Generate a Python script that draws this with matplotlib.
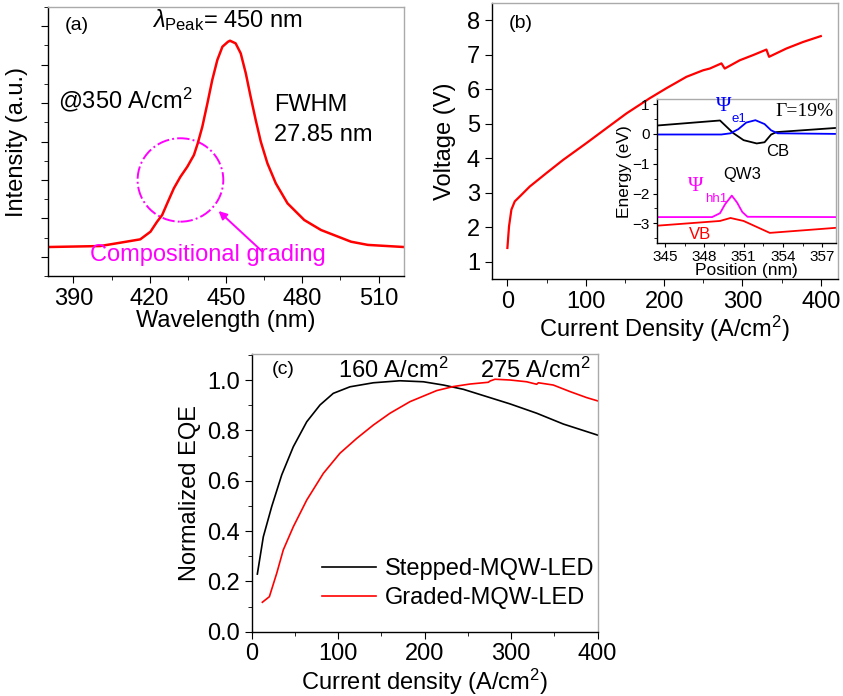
import matplotlib
matplotlib.use("Agg")
import matplotlib.pyplot as plt
from matplotlib.patches import Ellipse
from matplotlib.ticker import MultipleLocator

plt.rcParams['font.family'] = ['Liberation Sans', 'DejaVu Sans']
plt.rcParams['mathtext.fontset'] = 'custom'
plt.rcParams['mathtext.rm'] = 'Liberation Sans'
plt.rcParams['mathtext.it'] = 'Liberation Sans:italic'
plt.rcParams['mathtext.bf'] = 'Liberation Sans:bold'

# ---------------- data ----------------
# (a) EL spectrum
wl = [380, 400.5, 408.4, 416.3, 420.3, 422.9, 424.9, 426.9, 429.5, 432.1, 434.8, 437.4,
      438.9, 440.7, 442.7, 444.6, 446.6, 448.6, 450.8, 451.6, 453.8, 455.8, 457.8,
      459.7, 461.7, 463.7, 466.3, 469.6, 474.2, 480.8, 487.4, 499.2, 505.8, 520]
intensity = [0.755, 0.78, 0.867, 0.955, 1.153, 1.413, 1.587, 1.892, 2.282, 2.584, 2.844,
             3.149, 3.453, 3.885, 4.494, 5.100, 5.621, 5.967, 6.097, 6.123, 6.055, 5.795,
             5.275, 4.666, 4.059, 3.495, 2.933, 2.412, 1.892, 1.457, 1.197, 0.893, 0.81,
             0.755]

# (b) J-V curve
j_b = [0, 2.1, 5.1, 9.4, 15.7, 28.5, 49.8, 71, 100.9, 126.4, 152, 181.7, 203, 228.5,
       249.8, 258.3, 273.2, 277.4, 296.6, 313.6, 330.6, 334, 356, 377.4, 400]
v_b = [1.40, 2.03, 2.51, 2.75, 2.89, 3.18, 3.57, 3.95, 4.44, 4.87, 5.30, 5.74, 6.03, 6.36,
       6.55, 6.60, 6.75, 6.60, 6.84, 6.99, 7.15, 6.94, 7.18, 7.37, 7.54]

# (b) inset band diagram
pos_cb = [344.36, 349.2, 350.2, 351.0, 352.0, 352.6, 353.1, 353.5, 358.05]
e_cb = [0.28, 0.45, 0.03, -0.21, -0.32, -0.28, -0.02, 0.06, 0.20]
pos_e1 = [344.36, 349.3, 350.0, 350.6, 351.2, 351.9, 352.6, 353.1, 353.6, 358.05]
e_e1 = [-0.02, -0.02, 0.02, 0.16, 0.38, 0.46, 0.33, 0.12, 0.02, 0.0]
pos_hh = [344.36, 348.6, 349.2, 349.6, 350.1, 350.5, 350.9, 351.3, 358.05]
e_hh = [-2.79, -2.79, -2.66, -2.35, -2.07, -2.30, -2.62, -2.78, -2.79]
pos_vb = [344.36, 349.2, 350.0, 351.0, 353.0, 358.05]
e_vb = [-3.08, -2.92, -2.82, -2.92, -3.32, -3.15]

# (c) normalized EQE
j_step = [6.5, 13.4, 23.1, 34.7, 48.1, 63.6, 79, 94.3, 113.6, 140.6, 171.4, 198.5,
          221.6, 244.7, 271.7, 298.7, 329.5, 360.3, 400]
eqe_step = [0.229, 0.377, 0.497, 0.623, 0.735, 0.834, 0.901, 0.947, 0.973, 0.989, 0.997,
            0.993, 0.980, 0.963, 0.934, 0.905, 0.868, 0.825, 0.781]
j_grad = [12.3, 20.4, 28.9, 36.5, 48.1, 63.6, 82.8, 102, 121.4, 140.6, 159.9, 183,
          213.9, 233.1, 252.4, 273.6, 275.5, 281.3, 298.7, 317.9, 329.5, 331.4, 348.7,
          368, 387.3, 400]
eqe_grad = [0.117, 0.139, 0.232, 0.325, 0.417, 0.523, 0.629, 0.709, 0.768, 0.821, 0.868,
            0.914, 0.958, 0.974, 0.984, 0.991, 0.996, 1.003, 1.0, 0.993, 0.983, 0.989,
            0.980, 0.954, 0.930, 0.917]

RED = '#ff0000'
MAG = '#ff00ff'
BLUE = '#0000ff'
FS = 17
PL = 14

fig = plt.figure(figsize=(8.43, 6.96), dpi=100)


def style(ax, fs=FS, lw=1.0):
    for s in ['left', 'bottom']:
        ax.spines[s].set_color('black')
        ax.spines[s].set_linewidth(lw)
    for s in ['top', 'right']:
        ax.spines[s].set_color('#aaaaaa')
        ax.spines[s].set_linewidth(lw)
    ax.tick_params(which='both', direction='out', top=False, right=False, labelsize=fs)
    ax.tick_params(which='major', length=5)
    ax.tick_params(which='minor', length=3)


# ---------------- (a) ----------------
axa = fig.add_axes([0.0569, 0.6034, 0.4223, 0.3865])
axa.plot(wl, intensity, color=RED, lw=1.8)
axa.set_xlim(380, 520)
axa.set_ylim(0, 7)
axa.set_xticks([390, 420, 450, 480, 510])
axa.xaxis.set_minor_locator(MultipleLocator(15))
axa.set_yticks([0.5, 1.5, 2.5, 3.5, 4.5, 5.5, 6.5])
axa.yaxis.set_minor_locator(MultipleLocator(0.5))
axa.set_yticklabels([])
style(axa)
axa.set_xlabel('Wavelength (nm)', fontsize=FS, labelpad=0)
axa.set_ylabel('Intensity (a.u.)', fontsize=FS, labelpad=6)
axa.text(391.4, 6.53, '(a)', fontsize=PL, ha='center', va='center')
axa.text(421, 6.66, r'$\lambda_{\mathrm{Peak}}$= 450 nm', fontsize=FS, ha='left', va='center')
axa.text(384, 4.58, '@350 A/cm$^2$', fontsize=FS, ha='left', va='center')
axa.text(468.8, 4.45, 'FWHM', fontsize=FS, ha='left', va='center')
axa.text(468.8, 3.67, '27.85 nm', fontsize=FS, ha='left', va='center')
axa.add_patch(Ellipse((432.1, 2.50), 33.7, 2.17, fill=False, edgecolor=MAG,
                      linestyle='-.', lw=1.4))
axa.annotate('', xy=(446.3, 1.74), xytext=(464.9, 0.60),
             arrowprops=dict(arrowstyle='-|>', color=MAG, lw=1.4, mutation_scale=12))
axa.text(396.6, 0.55, 'Compositional grading', fontsize=FS, color=MAG,
         ha='left', va='center')

# ---------------- (b) ----------------
axb = fig.add_axes([0.5833, 0.5991, 0.4108, 0.3966])
axb.plot(j_b, v_b, color=RED, lw=1.6)
axb.set_xlim(-20, 422)
axb.set_ylim(0.5, 8.5)
axb.set_xticks([0, 100, 200, 300, 400])
axb.xaxis.set_minor_locator(MultipleLocator(50))
axb.set_yticks(range(1, 9))
style(axb)
axb.set_xlabel('Current Density (A/cm$^2$)', fontsize=FS, labelpad=1)
axb.set_ylabel('Voltage (V)', fontsize=FS, labelpad=8)
axb.text(17, 7.91, '(b)', fontsize=PL, ha='center', va='center')

# inset
axi = fig.add_axes([0.779, 0.6504, 0.2127, 0.2069])
axi.plot(pos_cb, e_cb, color='black', lw=1.3)
axi.plot(pos_e1, e_e1, color=BLUE, lw=1.3)
axi.plot(pos_hh, e_hh, color=MAG, lw=1.3)
axi.plot(pos_vb, e_vb, color=RED, lw=1.3)
axi.set_xlim(344.37, 358.05)
axi.set_ylim(-3.67, 1.16)
axi.set_xticks([345, 348, 351, 354, 357])
axi.xaxis.set_minor_locator(MultipleLocator(1.5))
axi.set_yticks([-3, -2, -1, 0, 1])
axi.yaxis.set_minor_locator(MultipleLocator(0.5))
style(axi, fs=11)
axi.tick_params(which='major', length=3, pad=2)
axi.tick_params(which='minor', length=2)
axi.set_xlabel('Position (nm)', fontsize=12.5, labelpad=-1)
axi.set_ylabel('Energy (eV)', fontsize=12.5, labelpad=0)
axi.text(353.4, 0.74, 'Γ=19%', fontsize=14, family='Liberation Serif',
         ha='left', va='center')
axi.text(349.5, 0.91, 'Ψ', fontsize=15, family='Liberation Serif', color=BLUE,
         ha='center', va='center')
axi.text(350.65, 0.50, 'e1', fontsize=9.5, color=BLUE, ha='center', va='center')
axi.text(353.6, -0.58, 'CB', fontsize=12, ha='center', va='center')
axi.text(350.9, -1.37, 'QW3', fontsize=12, ha='center', va='center')
axi.text(347.35, -1.77, 'Ψ', fontsize=15, family='Liberation Serif', color=MAG,
         ha='center', va='center')
axi.text(348.9, -2.2, 'hh1', fontsize=9.5, color=MAG, ha='center', va='center')
axi.text(347.7, -3.38, 'VB', fontsize=12, color=RED, ha='center', va='center')

# ---------------- (c) ----------------
axc = fig.add_axes([0.2986, 0.0924, 0.4104, 0.3985])
axc.plot(j_step, eqe_step, color='black', lw=1.2, label='Stepped-MQW-LED')
axc.plot(j_grad, eqe_grad, color=RED, lw=1.2, label='Graded-MQW-LED')
axc.set_xlim(0, 400)
axc.set_ylim(0, 1.102)
axc.set_xticks([0, 100, 200, 300, 400])
axc.xaxis.set_minor_locator(MultipleLocator(50))
axc.set_yticks([0.0, 0.2, 0.4, 0.6, 0.8, 1.0])
axc.yaxis.set_minor_locator(MultipleLocator(0.1))
style(axc)
axc.set_xlabel('Current density (A/cm$^2$)', fontsize=FS, labelpad=1)
axc.set_ylabel('Normalized EQE', fontsize=FS, labelpad=4)
axc.text(36, 1.04, '(c)', fontsize=PL, ha='center', va='center')
axc.text(99.7, 1.04, '160 A/cm$^2$', fontsize=FS, ha='left', va='center')
axc.text(264, 1.04, '275 A/cm$^2$', fontsize=FS, ha='left', va='center')
axc.legend(loc='upper left', bbox_to_anchor=(0.203, 0.265), frameon=False,
           fontsize=FS, handlelength=2.3, handletextpad=0.35, borderpad=0,
           borderaxespad=0, labelspacing=0.3)

fig.savefig('out.png', dpi=100)
